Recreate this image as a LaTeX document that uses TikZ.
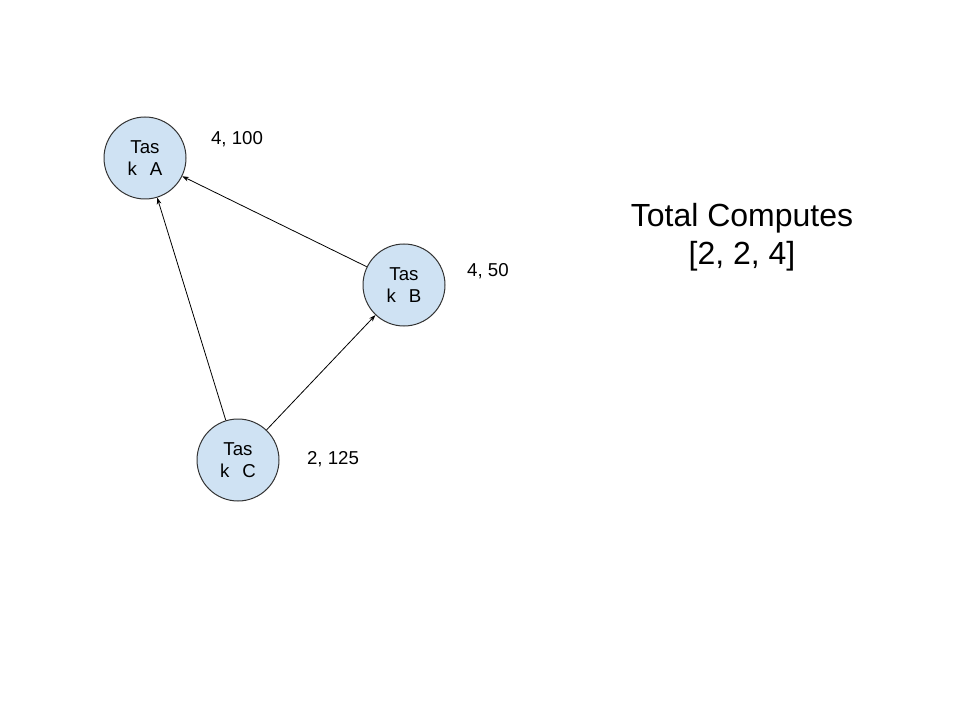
\documentclass[tikz,border=0pt]{standalone}
\usepackage{fontspec}
\setmainfont{Liberation Sans}
\usetikzlibrary{arrows.meta}
\definecolor{taskfill}{HTML}{CFE2F3}
\definecolor{taskline}{HTML}{333333}
\begin{document}
\begin{tikzpicture}[x=0.75pt,y=-0.75pt,
  task/.style={circle,draw=taskline,line width=0.75pt,fill=taskfill,minimum size=61.5pt,inner sep=0pt,align=center,font=\fontsize{14pt}{16.5pt}\selectfont},
  lbl/.style={font=\fontsize{14pt}{16pt}\selectfont,inner sep=0pt},
  conn/.style={draw=black,line width=0.6pt,-{Stealth[length=5pt,width=3.5pt]}}]
\useasboundingbox (0,0) rectangle (960,720);
\fill[white] (0,0) rectangle (960,720);
\node[task] (A) at (145,158) {Tas\\k\hspace{0.7em}A};
\node[task] (B) at (404,285) {Tas\\k\hspace{0.7em}B};
\node[task] (C) at (238,460) {Tas\\k\hspace{0.7em}C};
\node[lbl] (lA) at (237,139) {4, 100};
\node[lbl] (lB) at (488,271) {4, 50};
\node[lbl] (lC) at (333,459) {2, 125};
\node[align=center,font=\fontsize{24pt}{28.5pt}\selectfont,inner sep=0pt] (tot) at (742,237) {Total Computes\\{[2, 2, 4]}};
\draw[conn] (C) -- (A);
\draw[conn] (C) -- (B);
\draw[conn] (B) -- (A);
\end{tikzpicture}
\end{document}
